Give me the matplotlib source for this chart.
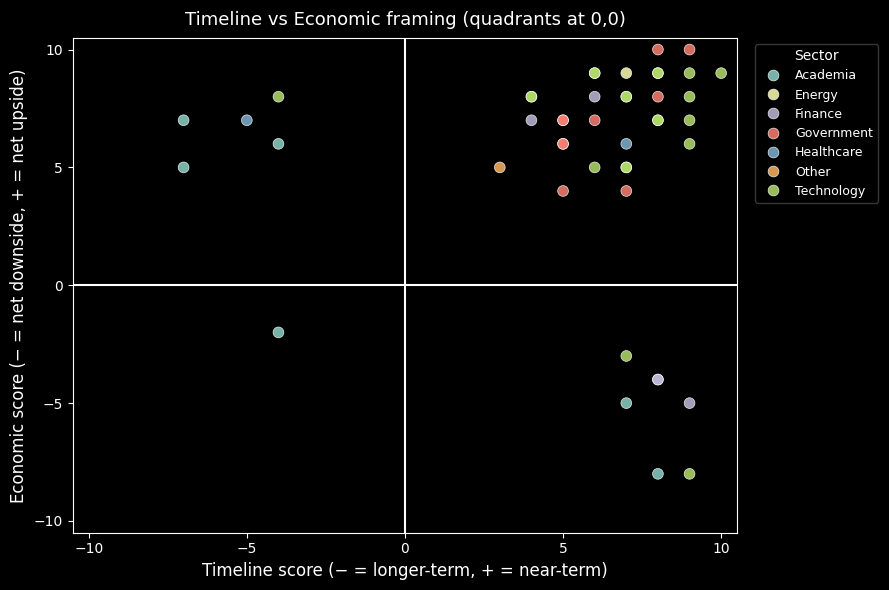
import matplotlib
matplotlib.use('Agg')
import matplotlib.pyplot as plt
import seaborn as sns
import pandas as pd

SECTORS = ['Academia', 'Energy', 'Finance', 'Government', 'Healthcare', 'Other', 'Technology']

# points (duplicates where dots look brighter = overlap)
timeline = [
    -7, -7, -4, -4,          # Academia upper left / lower left
    7, 8,                    # Academia lower right
    7,                       # Energy
    6, 4, 8, 8, 9,           # Finance
    8, 9, 8, 5, 5, 6, 5, 5, 5, 7,  # Government
    -5, 7,                   # Healthcare
    3,                       # Other
    -4, 6, 6, 7, 7, 8, 8, 9, 10, 4, 4, 7, 7, 9, 8, 8, 9, 9, 6, 7, 9,  # Technology
]
economic = [
    7, 5, 6, -2,
    -5, -8,
    9,
    8, 7, -4, -4, -5,
    10, 10, 8, 7, 7, 7, 6, 6, 4, 4,
    7, 6,
    5,
    8, 9, 9, 8, 8, 9, 9, 9, 9, 8, 8, 5, 5, 8, 7, 7, 7, 6, 5, -3, -8,
]
sector = (
    ['Academia'] * 6 + ['Energy'] + ['Finance'] * 5 + ['Government'] * 10
    + ['Healthcare'] * 2 + ['Other'] + ['Technology'] * 21
)

df = pd.DataFrame({'timeline': timeline, 'economic': economic, 'sector': sector})

plt.style.use('dark_background')
fig, ax = plt.subplots(figsize=(8.89, 5.9), dpi=100)
fig.subplots_adjust(left=0.082, right=0.829, top=0.936, bottom=0.097)

sns.scatterplot(data=df, x='timeline', y='economic', hue='sector', hue_order=SECTORS,
                palette='Set3', s=60, alpha=0.85, edgecolor='white', linewidth=0.5, ax=ax)

ax.axhline(0, color='white', linewidth=1.5)
ax.axvline(0, color='white', linewidth=1.5)
ax.set_xlim(-10.5, 10.5)
ax.set_ylim(-10.5, 10.5)
ax.set_xticks([-10, -5, 0, 5, 10])
ax.set_yticks([-10, -5, 0, 5, 10])

ax.set_title('Timeline vs Economic framing (quadrants at 0,0)', fontsize=13, pad=9)
ax.set_xlabel('Timeline score (\u2212 = longer-term, + = near-term)', fontsize=12)
ax.set_ylabel('Economic score (\u2212 = net downside, + = net upside)', fontsize=12)

leg = ax.legend(title='Sector', bbox_to_anchor=(1.018, 1), loc='upper left',
                fontsize=9, title_fontsize=10)
leg.get_frame().set_edgecolor('#444444')

plt.savefig('out.png', dpi=100)
plt.close()
